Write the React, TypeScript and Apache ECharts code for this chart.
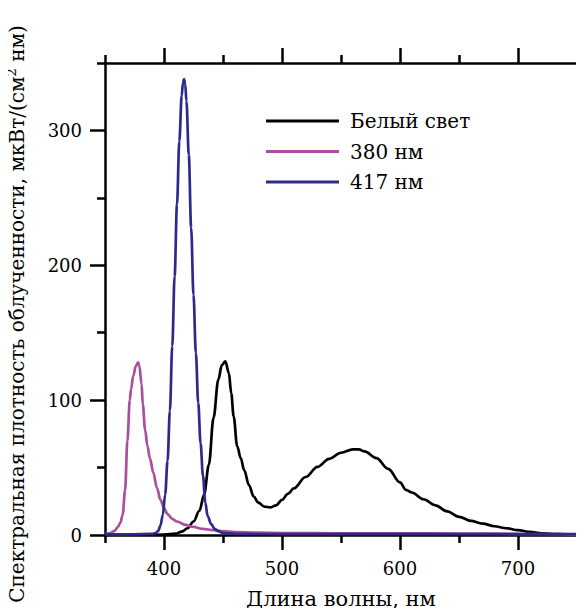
import React, { useEffect, useRef } from "react";
import * as echarts from "echarts";

const FONT = "DejaVu Serif";

const xMin = 350;
const xMax = 750;
const yMin = 0;
const yMax = 350;

const xMajorTicks = [400, 500, 600, 700];
const xMinorTicks = [350, 450, 550, 650, 750];
const yMajorTicks = [0, 100, 200, 300];
const yMinorTicks = [50, 150, 250, 350];
const yRightTicks = [0, 50, 100, 150, 200, 250, 300, 350];

const seriesNames = ["Белый свет", "380 нм", "417 нм"];
const seriesColors = ["#000000", "#A8509E", "#2E2A8C"];

const whiteX = [350, 380, 400, 410, 415, 420, 425, 430, 434, 438, 442, 446, 449, 452, 455, 457, 459, 462, 465, 468, 472, 476, 480, 485, 490, 495, 500, 505, 510, 520, 530, 540, 550, 560, 565, 570, 580, 590, 600, 605, 610, 620, 630, 640, 650, 660, 670, 680, 690, 700, 710, 720, 730, 740, 750];
const whiteY = [0, 0, 0.3, 1, 2.5, 5, 10, 18, 30, 52, 87, 115, 126, 128.7, 120, 105, 88, 66, 57, 48, 37, 28.5, 24, 21, 20.5, 22, 26, 30.5, 34.5, 43, 50.5, 56.5, 61, 63.5, 63.5, 62, 57, 49, 39, 33.5, 31.5, 26.5, 22, 17.5, 13.5, 10.5, 8.5, 6.5, 5, 3.6, 2.3, 1.3, 0.7, 0.5, 0.4];

const uv380X = [350, 354, 358, 361, 363, 365, 367, 369, 371, 372, 374, 376, 378, 379, 381, 382, 384, 386, 388, 391, 394, 397, 400, 403, 407, 411, 418, 425, 433, 442, 450, 460, 480, 500, 550, 600, 650, 700, 750];
const uv380Y = [0.5, 1.2, 3, 6, 9, 15, 33, 70, 100, 108, 118, 125, 128, 126, 112, 97, 78, 66, 57, 46, 35, 26, 20, 15.5, 12, 10, 7.5, 6, 4.5, 3.6, 2.8, 2.2, 1.7, 1.5, 1.3, 1.2, 1.1, 0.8, 0.5];

const v417X = [350, 370, 390, 393, 395, 397, 399, 401, 403, 405, 407, 409, 411, 413, 415, 416, 417, 418, 419, 421, 423, 425, 427, 429, 431, 433, 435, 437, 440, 443, 446, 450, 460, 500, 550, 600, 650, 700, 750];
const v417Y = [0.5, 0.5, 0.8, 1.5, 3, 7, 15, 30, 55, 92, 140, 192, 245, 292, 326, 335, 338, 334, 322, 282, 228, 178, 135, 98, 68, 44, 24, 14, 8, 4.5, 2.8, 1.5, 0.8, 0.7, 0.7, 0.7, 0.7, 0.7, 0.7];

const seriesX = [whiteX, uv380X, v417X];
const seriesY = [whiteY, uv380Y, v417Y];

export default function App() {
  const ref = useRef<HTMLDivElement>(null);

  useEffect(() => {
    if (!ref.current) return;
    const chart = echarts.init(ref.current, null, { renderer: "svg" });

    const gridPos = { left: 105, right: 7, top: 63, bottom: 81, outerBoundsMode: "none", containLabel: false };
    const axisLine = { show: true, lineStyle: { color: "#000", width: 2.5 } };
    const tickStyle = { color: "#000", width: 2.5 };

    const baseX = { type: "value", min: xMin, max: xMax, splitLine: { show: false } };
    const baseY = { type: "value", min: yMin, max: yMax, splitLine: { show: false } };

    const option: any = {
      animation: false,
      backgroundColor: "#fff",
      textStyle: { fontFamily: FONT },
      grid: [
        { ...gridPos },
        { ...gridPos },
      ],
      xAxis: [
        {
          ...baseX,
          gridIndex: 0,
          position: "bottom",
          axisLine: { ...axisLine, onZero: false },
          axisTick: { show: true, length: 15, lineStyle: tickStyle, customValues: xMajorTicks },
          axisLabel: { customValues: xMajorTicks, color: "#000", fontFamily: FONT, fontSize: 18, margin: 24 },
          name: "Длина волны, нм",
          nameLocation: "middle",
          nameGap: 53,
          nameTextStyle: { color: "#000", fontFamily: FONT, fontSize: 21 },
        },
        {
          ...baseX,
          gridIndex: 0,
          position: "top",
          axisLine: { ...axisLine, onZero: false },
          axisTick: { show: true, length: 15, lineStyle: tickStyle, customValues: xMajorTicks },
          axisLabel: { show: false },
        },
        {
          ...baseX,
          gridIndex: 1,
          position: "bottom",
          axisLine: { show: false, onZero: false },
          axisTick: { show: true, length: 8, lineStyle: tickStyle, customValues: xMinorTicks },
          axisLabel: { show: false },
        },
        {
          ...baseX,
          gridIndex: 1,
          position: "top",
          axisLine: { show: false, onZero: false },
          axisTick: { show: true, length: 8, lineStyle: tickStyle, customValues: xMinorTicks },
          axisLabel: { show: false },
        },
      ],
      yAxis: [
        {
          ...baseY,
          gridIndex: 0,
          position: "left",
          axisLine: { ...axisLine, onZero: false },
          axisTick: { show: true, length: 15, lineStyle: tickStyle, customValues: yMajorTicks },
          axisLabel: { customValues: yMajorTicks, color: "#000", fontFamily: FONT, fontSize: 18, margin: 23 },
          name: "Спектральная плотность облученности, мкВт/(см{sup|2} нм)",
          nameLocation: "middle",
          nameGap: 76,
          nameTextStyle: {
            color: "#000",
            fontFamily: FONT,
            fontSize: 20,
            lineHeight: 24,
            padding: [0, 30, 0, 0],
            rich: {
              sup: { fontFamily: FONT, fontSize: 13, color: "#000", verticalAlign: "top", lineHeight: 24 },
            },
          },
        },
        {
          ...baseY,
          gridIndex: 0,
          position: "right",
          axisLine: { ...axisLine, onZero: false },
          axisTick: { show: true, length: 8, lineStyle: tickStyle, customValues: yRightTicks },
          axisLabel: { show: false },
        },
        {
          ...baseY,
          gridIndex: 1,
          position: "left",
          axisLine: { show: false, onZero: false },
          axisTick: { show: true, length: 8, lineStyle: tickStyle, customValues: yMinorTicks },
          axisLabel: { show: false },
        },
        {
          ...baseY,
          gridIndex: 1,
          position: "right",
          axisLine: { show: false, onZero: false },
          axisTick: { show: false },
          axisLabel: { show: false },
        },
      ],
      legend: {
        orient: "vertical",
        left: 261,
        top: 106,
        itemWidth: 73,
        itemHeight: 3,
        itemGap: 10.5,
        icon: "rect",
        data: seriesNames,
        textStyle: { color: "#000", fontFamily: FONT, fontSize: 20, padding: [0, 0, 0, 6] },
      },
      series: seriesNames.map((name, i) => ({
        name,
        type: "line",
        xAxisIndex: 0,
        yAxisIndex: 0,
        data: seriesX[i].map((x, j) => [x, seriesY[i][j]]),
        showSymbol: false,
        symbol: "none",
        smooth: 0.35,
        smoothMonotone: "x",
        color: seriesColors[i],
        lineStyle: { color: seriesColors[i], width: 2.7 },
        z: 2 + i,
      })),
    };

    chart.setOption(option);
    return () => chart.dispose();
  }, []);

  return <div ref={ref} style={{ width: 584, height: 616, margin: -8 }} />;
}
